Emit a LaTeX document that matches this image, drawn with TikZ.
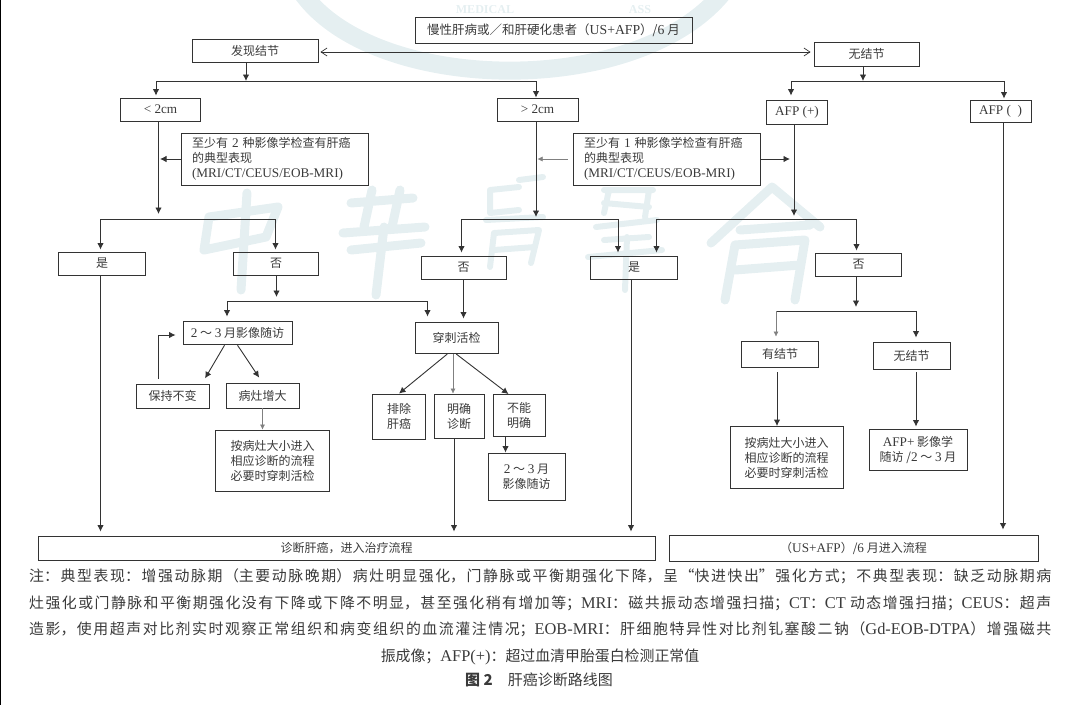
\documentclass[tikz,border=0pt]{standalone}
\usepackage{fontspec}
\setmainfont{Noto Sans CJK SC}
\newfontfamily\latfont[Scale=1.1]{Liberation Serif}
\newcommand{\lat}[1]{{\latfont #1}}
\XeTeXlinebreaklocale "zh"
\XeTeXlinebreakskip=0pt plus 3pt
\definecolor{inkline}{HTML}{333333}
\definecolor{inktext}{HTML}{3A3A3A}
\definecolor{seal}{HTML}{E5EFF1}
\usetikzlibrary{arrows.meta}
\tikzset{
	fbox/.style={draw=inkline,line width=0.9pt,text=inktext,inner sep=0pt,align=center,font=\fontsize{12}{15}\selectfont},
	critbox/.style={fbox,text width=165pt,inner xsep=11pt,minimum height=52pt,align=left},
	flow/.style={draw=inkline,line width=0.9pt,-{Latex[length=6.5pt,width=6.5pt]}},
	faint/.style={draw=gray,line width=0.5pt,-{Latex[length=5pt,width=5pt]}},
	trunk/.style={draw=inkline,line width=0.9pt},
	notetext/.style={text=inktext,inner sep=0pt,font=\fontsize{14.9}{26.3}\selectfont},
	sealstroke/.style={draw=seal,line width=9pt,line cap=round,line join=round},
	sealtext/.style={text=seal,inner sep=0pt,font=\latfont\bfseries\fontsize{11}{11}\selectfont}
}
\begin{document}
\begin{tikzpicture}[x=1pt,y=-1pt]
	\useasboundingbox (0,0) rectangle (1080,705);
	% Watermark
	\draw[seal,line width=18pt] (300,-10) .. controls (370,95) and (640,100) .. (725,-10);
	\node[sealtext] (sealname) at (485,10) {MEDICAL};
	\node[sealtext] (sealassoc) at (640,10) {ASS};
	\draw[sealstroke] (204,250) -- (209,217) -- (278,207) -- (266,237) -- cycle (247,193) -- (241,290);
	\draw[sealstroke] (351,203) -- (413,198) (372,190) -- (364,227) (400,190) -- (392,227)
		(343,233) -- (425,227) (351,250) -- (421,243) (384,227) -- (376,295);
	\draw[sealstroke,line width=6pt] (490,190) -- (519,187) (490,190) -- (490,213) -- (519,210) (519,180) -- (543,177)
		(486,220) -- (543,217) (490,267) -- (494,233) -- (539,230) -- (531,263) (494,250) -- (535,247);
	\draw[sealstroke,line width=6pt] (604,190) -- (653,190) (604,203) -- (649,207) (609,190) -- (604,213) (649,190) -- (645,217)
		(596,227) -- (657,220) (604,240) -- (649,237) (588,257) -- (662,250) (627,237) -- (625,290);
	\draw[sealstroke] (711,243) -- (772,187) -- (820,227) (740,230) -- (810,225) (725,300) -- (735,245) -- (805,240) -- (795,300) (735,270) -- (800,265);
	% Page edge
	\draw[black,line width=1pt] (0.5,0) -- (0.5,705);
	% Top row
	\node[fbox,minimum width=277pt,minimum height=26pt,font=\fontsize{12.5}{15}\selectfont] (screen) at (553.5,30) {慢性肝病或／和肝硬化患者（\lat{US+AFP}）/\lat{6} 月};
	\node[fbox,minimum width=126pt,minimum height=23pt] (found) at (255,50.5) {发现结节};
	\node[fbox,minimum width=105pt,minimum height=24pt] (none) at (866.5,54) {无结节};
	% Size and AFP row
	\node[fbox,minimum width=80pt,minimum height=23pt] (small) at (160.5,109.5) {\lat{< 2cm}};
	\node[fbox,minimum width=81pt,minimum height=23pt] (large) at (537.5,109.5) {\lat{> 2cm}};
	\node[fbox,minimum width=61pt,minimum height=24pt] (afppos) at (797,112) {\lat{AFP (+)}};
	\node[fbox,minimum width=61pt,minimum height=22pt] (afpneg) at (1000.5,111) {\lat{AFP (\ \ )}};
	% Imaging criteria
	\node[critbox] (twoimg) at (274.5,159)
		{至少有 \lat{2} 种影像学检查有肝癌\\的典型表现\\\lat{(MRI/CT/CEUS/EOB-MRI)}};
	\node[critbox] (oneimg) at (666.5,159)
		{至少有 \lat{1} 种影像学检查有肝癌\\的典型表现\\\lat{(MRI/CT/CEUS/EOB-MRI)}};
	% Yes and no row
	\node[fbox,minimum width=87pt,minimum height=23pt] (yesa) at (102,263.5) {是};
	\node[fbox,minimum width=85pt,minimum height=23pt] (noa) at (276,263.5) {否};
	\node[fbox,minimum width=85pt,minimum height=23pt] (nob) at (463.5,267.5) {否};
	\node[fbox,minimum width=87pt,minimum height=23pt] (yesb) at (634,267.5) {是};
	\node[fbox,minimum width=86pt,minimum height=23pt] (noc) at (858.5,264.5) {否};
	% Left follow up
	\node[fbox,minimum width=109pt,minimum height=23pt] (follow) at (237.5,332.5) {\lat{2} ～ \lat{3} 月影像随访};
	\node[fbox,minimum width=73pt,minimum height=24pt] (stable) at (172.5,396) {保持不变};
	\node[fbox,minimum width=73pt,minimum height=25pt] (grow) at (262.5,395.5) {病灶增大};
	\node[fbox,minimum width=114pt,minimum height=61pt] (sizea) at (272.5,460.5) {按病灶大小进入\\相应诊断的流程\\必要时穿刺活检};
	% Biopsy
	\node[fbox,minimum width=83pt,minimum height=31pt] (biopsy) at (456.5,337.5) {穿刺活检};
	\node[fbox,minimum width=53pt,minimum height=45pt] (exclude) at (399,416.5) {排除\\肝癌};
	\node[fbox,minimum width=50pt,minimum height=44pt] (confirm) at (459,416) {明确\\诊断};
	\node[fbox,minimum width=52pt,minimum height=42pt] (unsure) at (519,415.5) {不能\\明确};
	\node[fbox,minimum width=77pt,minimum height=47pt] (followb) at (526.5,476.5) {\lat{2} ～ \lat{3} 月\\影像随访};
	% Right branch
	\node[fbox,minimum width=77pt,minimum height=26pt] (hasnod) at (780,354) {有结节};
	\node[fbox,minimum width=77pt,minimum height=27pt] (nonod) at (911.5,355.5) {无结节};
	\node[fbox,minimum width=113pt,minimum height=62pt] (sizeb) at (786.5,457.5) {按病灶大小进入\\相应诊断的流程\\必要时穿刺活检};
	\node[fbox,minimum width=98pt,minimum height=41pt] (afpimg) at (918,449.5) {\lat{AFP+} 影像学\\随访 /\lat{2} ～ \lat{3} 月};
	% Bottom row
	\node[fbox,minimum width=617pt,minimum height=24pt] (diag) at (346.5,548) {诊断肝癌，进入治疗流程};
	\node[fbox,minimum width=369pt,minimum height=26pt] (entry) at (853.5,548) {（\lat{US+AFP}）/\lat{6} 月进入流程};
	% Split points
	\coordinate (splita) at (246,81);
	\coordinate (splital) at (156,81);
	\coordinate (splitar) at (536,81);
	\coordinate (splitb) at (863,81);
	\coordinate (splitbl) at (791,81);
	\coordinate (splitbr) at (1004,81);
	\coordinate (splitc) at (158.5,219);
	\coordinate (splitcl) at (100.5,219);
	\coordinate (splitcr) at (275.5,219);
	\coordinate (splitd) at (536,219);
	\coordinate (splitdl) at (461.5,219);
	\coordinate (splitdr) at (618,219);
	\coordinate (splite) at (794,219);
	\coordinate (splitel) at (656.5,219);
	\coordinate (splitf) at (856.5,219);
	\coordinate (splitg) at (276.5,301);
	\coordinate (splitgl) at (227,301);
	\coordinate (splitgr) at (427.5,301);
	\coordinate (splith) at (856,311);
	\coordinate (splithl) at (776,311);
	\coordinate (splithr) at (916,311);
	\coordinate (stabletop) at (158,379);
	\coordinate (stablecorner) at (158,335);
	% Top connectors
	\draw[draw=inkline,line width=0.7pt,{Straight Barb[length=6pt,width=8pt]}-{Straight Barb[length=6pt,width=8pt]},shorten <=2pt,shorten >=3pt] (found.east |- 0,52) -- (none.west |- 0,52);
	\draw[flow] (found.south -| splita) -- (splita);
	\draw[trunk] (splital) -- (splitar);
	\draw[flow,shorten >=2pt] (splital) -- (small.north -| splital);
	\draw[flow] (splitar) -- (large.north -| splitar);
	\draw[flow] (none.south -| splitb) -- (splitb);
	\draw[trunk] (splitbl) -- (splitbr);
	\draw[flow,shorten >=4pt] (splitbl) -- (afppos.north -| splitbl);
	\draw[flow,shorten >=1pt] (splitbr) -- (afpneg.north -| splitbr);
	% Down to first splits
	\draw[flow,shorten >=5pt] (small.south -| splitc) -- (splitc);
	\draw[flow,shorten >=1.5pt] (twoimg.west) -- (splitc |- twoimg.west);
	\draw[trunk] (splitcl) -- (splitcr);
	\draw[flow,shorten >=2pt] (splitcl) -- (yesa.north -| splitcl);
	\draw[flow,shorten >=2pt] (splitcr) -- (noa.north -| splitcr);
	\draw[flow,shorten >=2pt] (large.south -| splitd) -- (splitd);
	\draw[faint,shorten >=1.5pt] ([xshift=-5pt]oneimg.west) -- (splitd |- oneimg.west);
	\draw[flow,shorten >=4pt] (oneimg.east) -- (splite |- oneimg.east);
	\draw[trunk] (splitdl) -- (splitdr);
	\draw[flow,shorten >=3pt] (splitdl) -- (nob.north -| splitdl);
	\draw[flow,shorten >=3pt] (splitdr) -- (yesb.north -| splitdr);
	\draw[flow,shorten >=3pt] (afppos.south -| splite) -- (splite);
	\draw[trunk] (splitel) -- (splitf);
	\draw[flow,shorten >=3pt] (splitel) -- (yesb.north -| splitel);
	\draw[flow,shorten >=2pt] (splitf) -- (noc.north -| splitf);
	% Left lower connectors
	\draw[flow,shorten >=4pt] (noa.south -| splitg) -- (splitg);
	\draw[trunk] (splitgl) -- (splitgr);
	\draw[flow,shorten >=4pt] (splitgl) -- (follow.north -| splitgl);
	\draw[flow,shorten >=5pt] (splitgr) -- (biopsy.north -| splitgr);
	\draw[flow] (stabletop) -- (stablecorner) -- ([xshift=-7pt]stablecorner -| follow.west);
	\draw[flow,shorten <=1pt,shorten >=6pt] (follow.south -| 225,0) -- (stable.north -| 202,0);
	\draw[flow,shorten <=1pt,shorten >=6pt] (follow.south -| 237,0) -- (grow.north);
	\draw[faint] (grow.south) -- (sizea.north -| grow.south);
	\draw[flow,shorten >=3pt] (nob.south) -- (biopsy.north -| nob.south);
	\draw[flow,shorten <=1pt] (biopsy.south -| 448,0) -- (exclude.north);
	\draw[faint,shorten <=1pt] (biopsy.south -| 453,0) -- (confirm.north -| 453,0);
	\draw[flow,shorten <=1pt] (biopsy.south -| 455.5,0) -- (unsure.north -| 508.5,0);
	\draw[flow] (unsure.south -| 505.5,0) -- (followb.north -| 505.5,0);
	\draw[flow,shorten >=4pt] (confirm.south -| 454,0) -- (diag.north -| 454,0);
	\draw[flow,shorten >=4pt] (yesa.south -| splitcl) -- (diag.north -| splitcl);
	\draw[flow,shorten >=4pt] (yesb.south -| 631,0) -- (diag.north -| 631,0);
	% Right lower connectors
	\draw[flow,shorten >=4pt] (noc.south -| splith) -- (splith);
	\draw[trunk] (splithl) -- (splithr);
	\draw[faint,shorten >=4pt] (splithl) -- (hasnod.north -| splithl);
	\draw[flow,shorten >=4pt] (splithr) -- (nonod.north -| splithr);
	\draw[flow,shorten <=5pt] (hasnod.south -| 777,0) -- (sizeb.north -| 777,0);
	\draw[flow,shorten <=3pt,shorten >=2pt] (nonod.south -| 916,0) -- (afpimg.north -| 916,0);
	\draw[flow,shorten >=5pt] (afpneg.south -| 1003,0) -- (entry.north -| 1003,0);
	% Note
	\node[notetext,text width=1022pt,align=justify,anchor=north west] (note) at (29,569)
		{注：典型表现：增强动脉期（主要动脉晚期）病灶明显强化，门静脉或平衡期强化下降，呈“快进快出”强化方式；不典型表现：缺乏动脉期病\linebreak
		灶强化或门静脉和平衡期强化没有下降或下降不明显，甚至强化稍有增加等；\lat{MRI}：磁共振动态增强扫描；\lat{CT}：\lat{CT} 动态增强扫描；\lat{CEUS}：超声\linebreak
		造影，使用超声对比剂实时观察正常组织和病变组织的血流灌注情况；\lat{EOB-MRI}：肝细胞特异性对比剂钆塞酸二钠（\lat{Gd-EOB-DTPA}）增强磁共\linebreak};
	\node[notetext] (notelast) at (540,657) {振成像；\lat{AFP(+)}：超过血清甲胎蛋白检测正常值};
	\node[text=inktext,inner sep=0pt,font=\fontsize{15}{15}\selectfont] (title) at (539,680) {\textbf{图 2}\quad 肝癌诊断路线图};
\end{tikzpicture}
\end{document}
